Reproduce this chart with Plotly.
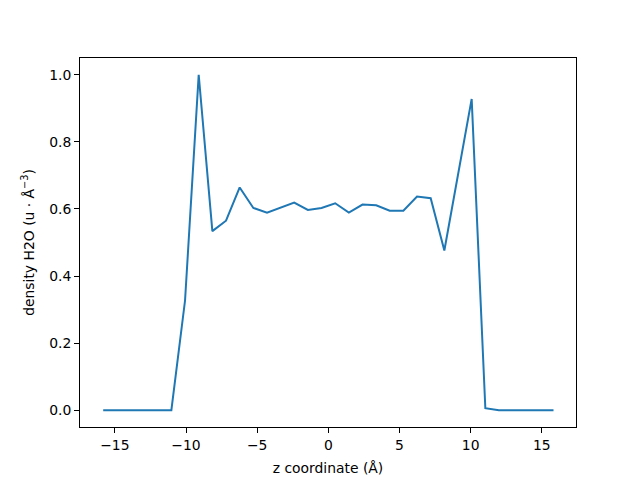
import plotly.graph_objects as go

z_coord = [-15.82, -14.86, -13.90, -12.94, -11.98, -11.03, -10.07, -9.11, -8.15, -7.19,
           -6.23, -5.27, -4.31, -3.36, -2.40, -1.44, -0.48, 0.48, 1.44, 2.40,
           3.36, 4.31, 5.27, 6.23, 7.19, 8.15, 9.11, 10.07, 11.03, 11.98,
           12.94, 13.90, 14.86, 15.82]
density_h2o = [0.0, 0.0, 0.0, 0.0, 0.0, 0.0, 0.327, 1.0, 0.534, 0.565,
               0.664, 0.603, 0.589, 0.603, 0.619, 0.597, 0.603, 0.617, 0.589, 0.613,
               0.611, 0.595, 0.595, 0.637, 0.632, 0.476, 0.702, 0.928, 0.006, 0.0,
               0.0, 0.0, 0.0, 0.0]
x_ticks = [-15, -10, -5, 0, 5, 10, 15]
y_ticks = [0.0, 0.2, 0.4, 0.6, 0.8, 1.0]

font = dict(family="DejaVu Sans", size=13.9, color="black")

fig = go.Figure()
fig.add_trace(go.Scatter(x=z_coord, y=density_h2o, mode="lines",
                         line=dict(color="#1f77b4", width=2), showlegend=False))

axis_common = dict(showline=True, linecolor="black", linewidth=1, mirror=True,
                   ticks="outside", ticklen=5, tickwidth=1, tickcolor="black",
                   showgrid=False, zeroline=False, tickfont=font, automargin=False)

fig.update_layout(
    width=640, height=480,
    margin=dict(l=80, r=64, t=58, b=53),
    paper_bgcolor="white", plot_bgcolor="white",
    font=font,
    xaxis=dict(range=[-17.45, 17.40], tickvals=x_ticks,
               title=dict(text="z coordinate (Å)", font=font, standoff=11),
               **axis_common),
    yaxis=dict(range=[-0.05, 1.05], tickvals=y_ticks, tickformat=".1f",
               title=dict(text="density H2O (u · Å<sup>−3</sup>)", font=font, standoff=11),
               **axis_common),
)

fig.write_html("out.html", config={"displayModeBar": False},
               post_script="document.body.style.margin='0';")
